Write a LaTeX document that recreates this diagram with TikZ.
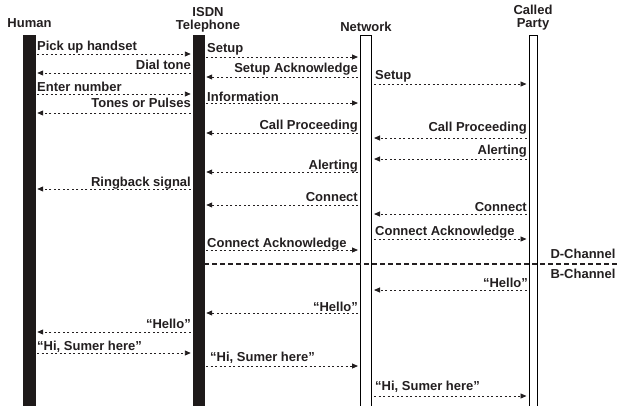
\documentclass[tikz,border=0pt]{standalone}
\usepackage{fontspec}
\setmainfont{Liberation Sans}
\usetikzlibrary{arrows.meta}
\definecolor{barc}{RGB}{30,26,26}
\definecolor{txt}{RGB}{35,31,32}
\begin{document}
\begin{tikzpicture}[x=1pt,y=-1pt,
  lbl/.style={font=\fontsize{13}{13}\selectfont\bfseries, text=txt, inner sep=0pt},
  hdr/.style={lbl, align=center, anchor=north},
  solidbar/.style={draw=barc, fill=barc, inner sep=0pt, minimum height=380pt},
  openbar/.style={draw=black, fill=white, line width=1pt, inner sep=0pt, minimum height=380pt},
  msg/.style={draw=txt, line width=0.9pt, dash pattern=on 2pt off 2.5pt,
    -{Triangle[length=6pt,width=5pt]}, shorten >=2pt, shorten <=2pt},
  chan/.style={draw=txt, line width=2pt, dash pattern=on 5pt off 3pt},
]
\useasboundingbox (0,0) rectangle (620,405);
% lifelines
\node[solidbar, minimum width=12pt] (H) at (29,225) {};
\node[solidbar, minimum width=11pt] (T) at (198.5,225) {};
\node[openbar, minimum width=11pt] (N) at (366,225) {};
\node[openbar, minimum width=8pt] (C) at (533,225) {};
% headers
\node[lbl, anchor=base] (hH) at (29.5,27) {Human};
\node[hdr] (hT) at (208,7) {ISDN\\Telephone};
\node[lbl, anchor=base] (hN) at (366,31) {Network};
\node[hdr] (hC) at (533,5) {Called\\Party};
% Human - Telephone
\draw[msg] (H.east |- 0,54) -- (T.west |- 0,54);
\node[lbl, anchor=base west] (a1) at (37,50) {Pick up handset};
\draw[msg] (T.west |- 0,73) -- (H.east |- 0,73);
\node[lbl, anchor=base east] (a2) at (191,69.5) {Dial tone};
\draw[msg] (H.east |- 0,94) -- (T.west |- 0,94);
\node[lbl, anchor=base west] (a3) at (37,91.5) {Enter number};
\draw[msg] (T.west |- 0,113) -- (H.east |- 0,113);
\node[lbl, anchor=base east] (a4) at (191,107) {Tones or Pulses};
\draw[msg] (T.west |- 0,189) -- (H.east |- 0,189);
\node[lbl, anchor=base east] (a5) at (191,186.5) {Ringback signal};
\draw[msg] (T.west |- 0,332) -- (H.east |- 0,332);
\node[lbl, anchor=base east] (a6) at (191,328.5) {“Hello”};
\draw[msg] (H.east |- 0,353) -- (T.west |- 0,353);
\node[lbl, anchor=base west] (a7) at (37,350.5) {“Hi, Sumer here”};
% Telephone - Network
\draw[msg] (T.east |- 0,57) -- (N.west |- 0,57);
\node[lbl, anchor=base west] (b1) at (207,52.5) {Setup};
\draw[msg] (N.west |- 0,77) -- (T.east |- 0,77);
\node[lbl, anchor=base east] (b2) at (358,72.5) {Setup Acknowledge};
\draw[msg] (T.east |- 0,103) -- (N.west |- 0,103);
\node[lbl, anchor=base west] (b3) at (207,101.5) {Information};
\draw[msg] (N.west |- 0,133) -- (T.east |- 0,133);
\node[lbl, anchor=base east] (b4) at (358,129.5) {Call Proceeding};
\draw[msg] (N.west |- 0,172) -- (T.east |- 0,172);
\node[lbl, anchor=base east] (b5) at (358,169.5) {Alerting};
\draw[msg] (N.west |- 0,205) -- (T.east |- 0,205);
\node[lbl, anchor=base east] (b6) at (358,201.5) {Connect};
\draw[msg] (T.east |- 0,250) -- (N.west |- 0,250);
\node[lbl, anchor=base west] (b7) at (207,247.5) {Connect Acknowledge};
\draw[msg] (N.west |- 0,313) -- (T.east |- 0,313);
\node[lbl, anchor=base east] (b8) at (358,311.5) {“Hello”};
\draw[msg] (T.east |- 0,366) -- (N.west |- 0,366);
\node[lbl, anchor=base west] (b9) at (210,361.5) {“Hi, Sumer here”};
% Network - Called party
\draw[msg] (N.east |- 0,84) -- (C.west |- 0,84);
\node[lbl, anchor=base west] (c1) at (375,79.5) {Setup};
\draw[msg] (C.west |- 0,138) -- (N.east |- 0,138);
\node[lbl, anchor=base east] (c2) at (527,131.5) {Call Proceeding};
\draw[msg] (C.west |- 0,159) -- (N.east |- 0,159);
\node[lbl, anchor=base east] (c3) at (527,154.5) {Alerting};
\draw[msg] (C.west |- 0,214) -- (N.east |- 0,214);
\node[lbl, anchor=base east] (c4) at (527,211.5) {Connect};
\draw[msg] (N.east |- 0,239) -- (C.west |- 0,239);
\node[lbl, anchor=base west] (c5) at (375,235.5) {Connect Acknowledge};
\draw[msg] (C.west |- 0,290) -- (N.east |- 0,290);
\node[lbl, anchor=base east] (c6) at (528,287.5) {“Hello”};
\draw[msg] (N.east |- 0,396) -- (C.west |- 0,396);
\node[lbl, anchor=base west] (c7) at (375,390.5) {“Hi, Sumer here”};
% channel separator
\coordinate (dend) at (620,264);
\draw[chan] (T.east |- dend) -- (dend);
\node[lbl, anchor=base] (dch) at (583,258.5) {D-Channel};
\node[lbl, anchor=base] (bch) at (583,278.5) {B-Channel};
\end{tikzpicture}
\end{document}
